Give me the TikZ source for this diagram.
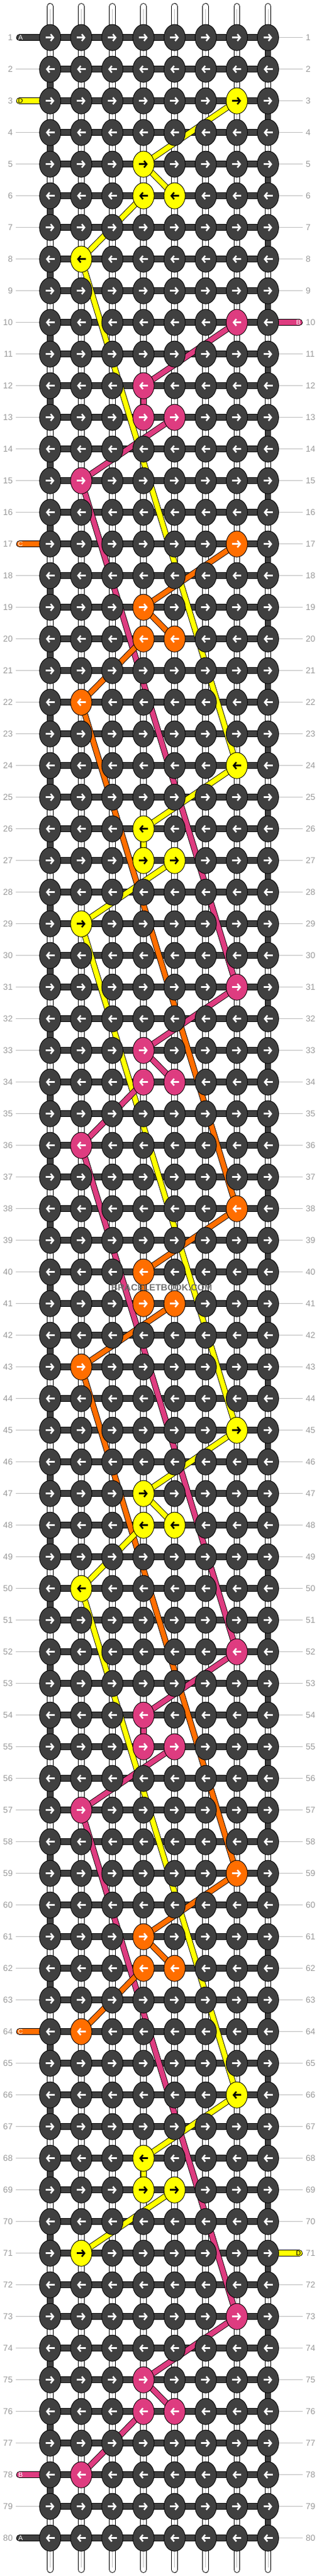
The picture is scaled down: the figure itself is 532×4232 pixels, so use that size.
\documentclass[tikz,border=0pt]{standalone}
\usepackage{fontspec}
\setmainfont{Liberation Sans}
\usetikzlibrary{shapes.geometric,arrows.meta}
\pgfdeclarelayer{back}
\pgfsetlayers{back,main}
\definecolor{dark}{HTML}{404040}
\definecolor{yel}{HTML}{FFFF00}
\definecolor{pnk}{HTML}{DE3C80}
\definecolor{org}{HTML}{FF6E00}
\definecolor{numgray}{HTML}{999999}
\definecolor{linegray}{HTML}{BBBBBB}

\begin{document}
\begin{tikzpicture}
  [x=1pt, y=-1pt,
   knot/.style={ellipse, draw=black, line width=0.9pt, fill=dark,
     minimum width=35pt, minimum height=43pt, inner sep=0pt,
     path picture={\draw[\ac, line width=2.6pt, -{Straight Barb[length=4.5pt, width=11pt]}]
       ([xshift=-\ad*7.5pt]path picture bounding box.center) -- ([xshift=\ad*7pt]path picture bounding box.center);}},
   kdark/.style={knot},
   kyel/.style={knot, fill=yel},
   kpnk/.style={knot, fill=pnk},
   korg/.style={knot, fill=org},
   string/.style={draw=black, line width=1pt, double=white, double distance=8.8pt, line cap=round},
   core/.style={draw=black!25, line width=0.9pt, shorten <=4pt, shorten >=4pt},
   weft/.style={draw=black, line width=0.8pt, double=dark, double distance=9pt},
   thread/.style={draw=black, line width=0.9pt, double=#1, double distance=8.2pt},
   tail/.style={draw=black, line width=0.9pt, double=#1, double distance=9pt, line cap=round},
   rownum/.style={text=numgray, font=\fontsize{14}{14}\selectfont, inner sep=0pt},
   tag/.style={text=#1, font=\fontsize{11}{11}\selectfont, inner sep=0pt},
   guide/.style={draw=linegray, line width=1pt}]
  \useasboundingbox (0,0) rectangle (532,4232);

  % knots: odd rows go right, even rows go left
  \foreach \r in {1,...,80}
    \foreach \c in {1,...,8} {
      \pgfmathtruncatemacro\o{mod(\r+4,7)}
      \pgfmathtruncatemacro\g{mod(floor((\r+4)/7)-1,3)}
      \pgfmathtruncatemacro\hit{and(\r>2,\r<79)*((\o==0)*(\c==7)+(\o==2)*(\c==4)+(\o==3)*(\c>3)*(\c<6)+(\o==5)*(\c==2))}
      \def\ac{white}
      \ifnum\hit=0 \def\ks{kdark}\else\ifcase\g \def\ks{kyel}\def\ac{black}\or\def\ks{kpnk}\else\def\ks{korg}\fi\fi
      \ifodd\r \def\ad{1}\else\def\ad{-1}\fi
      \node[\ks] (k-\r-\c) at (82.3+51.1*\c-51.1, 61.7+52*\r-52) {};
    }

  % row numbers
  \foreach \r in {1,...,80} {
    \node[rownum, anchor=east] (ln-\r) at (21, 61.7+52*\r-52) {\r};
    \node[rownum, anchor=west] (rn-\r) at (502, 61.7+52*\r-52) {\r};
  }

  % thread ends
  \foreach \r/\tc/\lt in {1/white/A, 3/black/D, 17/white/C, 64/white/C, 78/white/B, 80/white/A} {
    \coordinate (le-\r) at (32, 61.7+52*\r-52);
    \node[tag=\tc] (lt-\r) at (33.7, 61.7+52*\r-52) {\lt};
  }
  \foreach \r/\tc/\lt in {10/white/B, 71/black/D} {
    \coordinate (re-\r) at (491.5, 61.7+52*\r-52);
    \node[tag=\tc] (rt-\r) at (490, 61.7+52*\r-52) {\lt};
  }

  \node[font=\bfseries\fontsize{15}{15}\selectfont, text=black!60, opacity=.9] (mark) at (265.5, 2115) {BRACELETBOOK.COM};

  \begin{pgfonlayer}{back}
    % base strings
    \foreach \c in {1,...,8} {
      \coordinate (top-\c) at (82.3+51.1*\c-51.1, 10.5);
      \coordinate (bot-\c) at (82.3+51.1*\c-51.1, 4221.5);
      \draw[string] (top-\c) -- (bot-\c);
      \draw[core] (top-\c) -- (bot-\c);
    }
    % guide lines
    \foreach \r in {1,...,80} {
      \pgfmathtruncatemacro\tl{(\r==1)+(\r==3)+(\r==17)+(\r==64)+(\r==78)+(\r==80)}
      \pgfmathtruncatemacro\tr{(\r==10)+(\r==71)}
      \ifnum\tl=0 \draw[guide] ([xshift=5pt]ln-\r.east) -- (k-\r-1.center); \fi
      \ifnum\tr=0 \draw[guide] ([xshift=-5pt]rn-\r.west) -- (k-\r-8.center); \fi
    }
    % working rows and turns
    \foreach \r in {1,...,80}
      \draw[weft] (k-\r-1.center) -- (k-\r-8.center);
    \foreach \r [evaluate=\r as \s using int(\r+1)] in {1,...,79} {
      \ifodd\r \def\e{8}\else\def\e{1}\fi
      \draw[weft] (k-\r-\e.center) -- (k-\s-\e.center);
    }
    \foreach \r/\cl in {1/dark, 3/yel, 17/org, 64/org, 78/pnk, 80/dark}
      \draw[tail=\cl] (le-\r) -- (k-\r-1.center);
    \foreach \r/\cl in {10/pnk, 71/yel}
      \draw[tail=\cl] (re-\r) -- (k-\r-8.center);
    % coloured threads
    \foreach \g/\cl in {3/yel, 10/pnk, 17/org, 24/yel, 31/pnk, 38/org, 45/yel, 52/pnk, 59/org, 66/yel, 73/pnk} {
      \pgfmathtruncatemacro\ra{\g+2}
      \pgfmathtruncatemacro\rb{\g+3}
      \pgfmathtruncatemacro\rc{\g+5}
      \pgfmathtruncatemacro\rd{\g+21}
      \draw[thread=\cl] (k-\g-7.center) -- (k-\ra-4.center);
      \ifodd\g
        \draw[thread=\cl] (k-\ra-4.center) -- (k-\rb-5.center);
        \draw[thread=\cl] (k-\rb-4.center) -- (k-\rc-2.center);
      \else
        \draw[thread=\cl] (k-\ra-4.center) -- (k-\rb-4.center);
        \draw[thread=\cl] (k-\rb-5.center) -- (k-\rc-2.center);
      \fi
      \ifnum\g<53 \draw[thread=\cl] (k-\rc-2.center) -- (k-\rd-7.center); \fi
    }
  \end{pgfonlayer}
\end{tikzpicture}
\end{document}
